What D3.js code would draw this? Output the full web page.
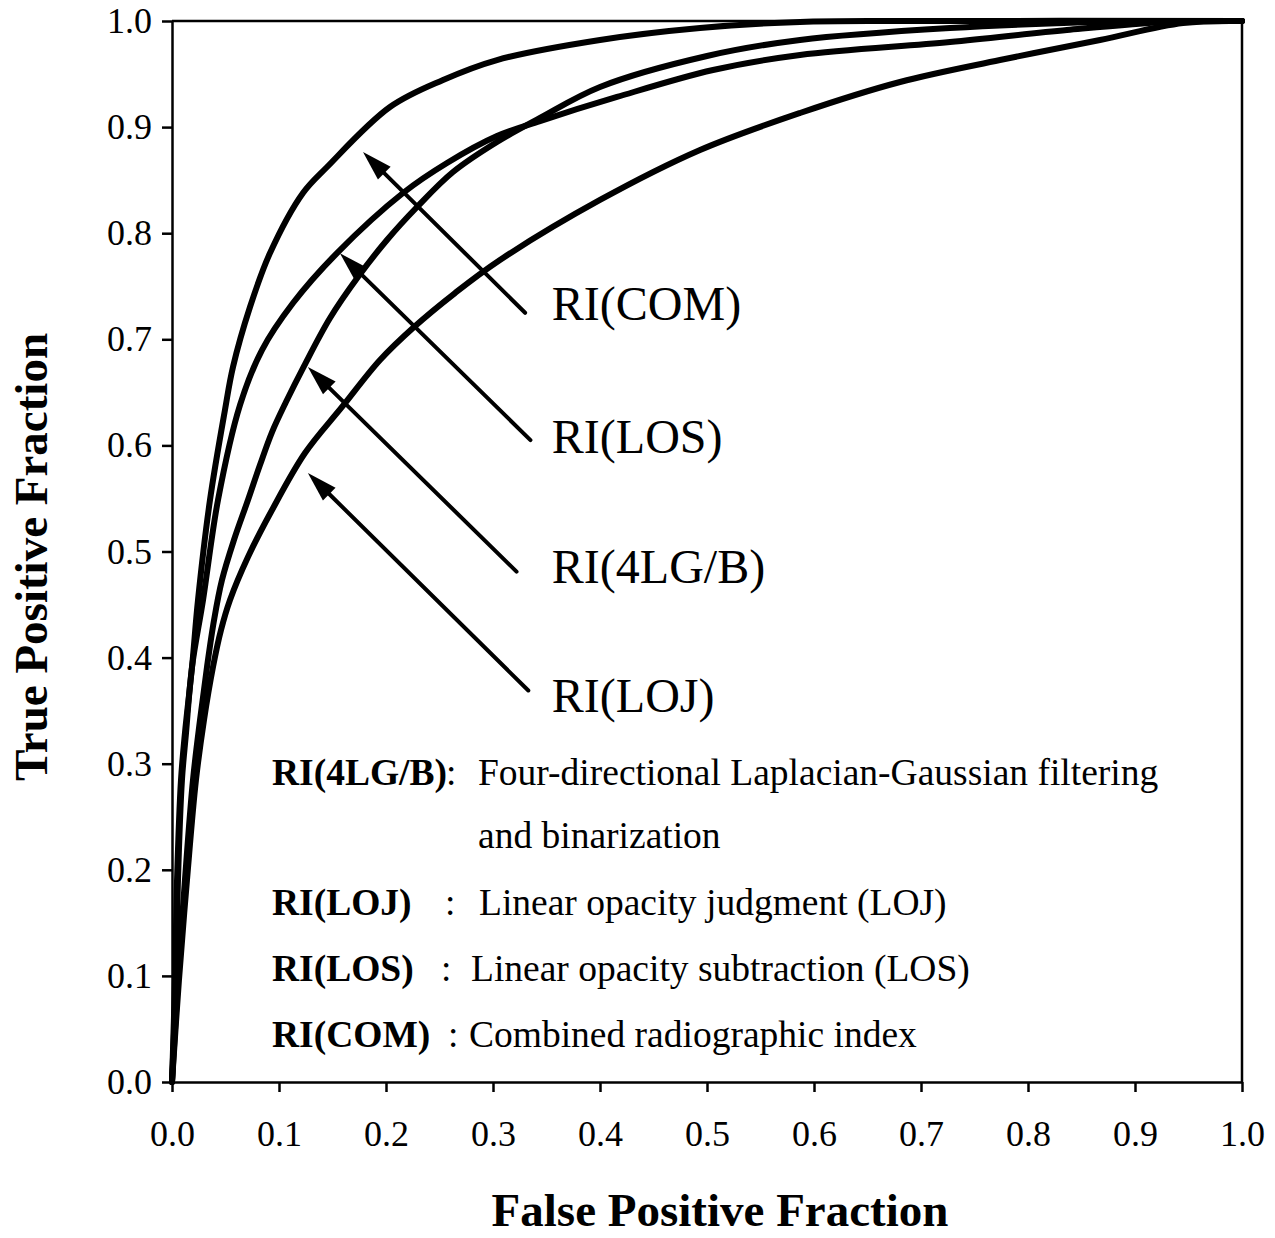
<!DOCTYPE html>
<html><head><meta charset="utf-8">
<script src="https://cdn.jsdelivr.net/npm/d3@7"></script>
<style>
html,body{margin:0;padding:0;background:#fff;}
svg{display:block;}
text{font-family:"Liberation Serif","Times New Roman",serif;fill:#000;}
</style></head>
<body>
<svg id="chart" width="1275" height="1238"></svg>
<script>
// ---------- data ----------
const tickValues = [0,0.1,0.2,0.3,0.4,0.5,0.6,0.7,0.8,0.9,1.0];
const tickLabels = ["0.0","0.1","0.2","0.3","0.4","0.5","0.6","0.7","0.8","0.9","1.0"];

const seriesNames = ["RI(COM)","RI(LOS)","RI(4LG/B)","RI(LOJ)"];

const fpfCOM = [0,0.0028,0.0047,0.0084,0.0121,0.0187,0.0243,0.0355,0.0495,0.0570,0.0729,0.0916,0.1224,0.1449,0.2037,0.2533,0.3037,0.400,0.4935,0.5869,0.6804,1.0];
const tpfCOM = [0,0.0961,0.1904,0.2846,0.3289,0.3911,0.4543,0.5485,0.6334,0.6739,0.7304,0.7813,0.8379,0.8624,0.9189,0.9444,0.9632,0.9821,0.9934,0.9991,1.0,1.0];

const fpfLOS = [0,0.0037,0.0056,0.0093,0.0131,0.0187,0.0290,0.0430,0.0636,0.0841,0.1131,0.1542,0.2159,0.2570,0.3037,0.3439,0.4159,0.5056,0.5869,0.7271,0.8364,0.9299,1.0];
const tpfLOS = [0,0.0961,0.1904,0.2846,0.3289,0.3911,0.4543,0.5485,0.6381,0.6899,0.7342,0.7813,0.8379,0.8662,0.8916,0.9057,0.9284,0.9538,0.9680,0.9802,0.9915,0.9991,1.0];

const fpf4LG = [0,0.0056,0.0121,0.0196,0.0262,0.0327,0.0393,0.0467,0.0579,0.0710,0.0822,0.0935,0.1065,0.1234,0.1477,0.1738,0.2009,0.2290,0.2626,0.3037,0.3439,0.400,0.500,0.5869,0.7271,0.8673,0.9449,1.0];
const tpf4LG = [0,0.0961,0.1904,0.2846,0.3412,0.3911,0.4354,0.4731,0.5108,0.5485,0.5815,0.6126,0.6409,0.6748,0.7201,0.7587,0.7936,0.8247,0.8577,0.8860,0.9086,0.9378,0.9670,0.9821,0.9934,0.9991,1.0,1.0];

const fpfLOJ = [0,0.0065,0.0140,0.0224,0.0299,0.0383,0.0458,0.0542,0.0710,0.0935,0.1243,0.1589,0.1944,0.2262,0.2645,0.3065,0.400,0.4935,0.5869,0.6804,0.7738,0.8673,0.9449,1.0];
const tpfLOJ = [0,0.0961,0.1904,0.2846,0.3412,0.3911,0.4260,0.4543,0.4948,0.5391,0.5928,0.6362,0.6805,0.7116,0.7436,0.7747,0.8313,0.8784,0.9133,0.9425,0.9632,0.9821,0.9981,1.0];

// arrow annotations (data units): tail -> tip, and label anchor
const arrowTailX = [0.330,0.335,0.322,0.333];
const arrowTailY = [0.725,0.605,0.481,0.369];
const arrowTipX  = [0.1785,0.157,0.127,0.127];
const arrowTipY  = [0.8765,0.781,0.674,0.574];
const labelX = [0.355,0.355,0.355,0.355];
const labelY = [0.718,0.593,0.470,0.349];

const legendKeys = ["RI(4LG/B)","","RI(LOJ)","RI(LOS)","RI(COM)"];
const legendSeps = [":","",":",":",":"];
const legendTexts = ["Four-directional Laplacian-Gaussian filtering","and binarization","Linear opacity judgment (LOJ)","Linear opacity subtraction (LOS)","Combined radiographic index"];

// ---------- layout ----------
const svg = d3.select("#chart");
const X0=172, X1=1242, Y0=1082, Y1=21;
const x = d3.scaleLinear().domain([0,1]).range([X0,X1]);
const y = d3.scaleLinear().domain([0,1]).range([Y0,Y1]);

// box lines (top & right)
svg.append("line").attr("x1",X0).attr("x2",X1).attr("y1",Y1).attr("y2",Y1)
  .attr("stroke","#000").attr("stroke-width",2.5);
svg.append("line").attr("x1",X1).attr("x2",X1).attr("y1",Y1).attr("y2",Y0)
  .attr("stroke","#000").attr("stroke-width",2.5);

// axes
const fmt = (d)=> tickLabels[tickValues.indexOf(d)];
const gx = svg.append("g").attr("transform",`translate(0,${Y0})`)
  .call(d3.axisBottom(x).tickValues(tickValues).tickFormat(fmt).tickSize(10).tickSizeOuter(0).tickPadding(28));
const gy = svg.append("g").attr("transform",`translate(${X0},0)`)
  .call(d3.axisLeft(y).tickValues(tickValues).tickFormat(fmt).tickSize(10).tickSizeOuter(0).tickPadding(10));
[gx,gy].forEach(g=>{
  g.select(".domain").attr("stroke","#000").attr("stroke-width",2.5);
  g.selectAll(".tick line").attr("stroke","#000").attr("stroke-width",2.5);
  g.selectAll(".tick text").style("font-family","'Liberation Serif',serif").style("font-size","36px").attr("fill","#000");
});

// axis titles
svg.append("text").attr("x",720).attr("y",1226).attr("text-anchor","middle")
  .style("font-size","47px").style("font-weight","bold").text("False Positive Fraction");
svg.append("text").attr("transform","translate(47,557) rotate(-90)").attr("text-anchor","middle")
  .style("font-size","47px").style("font-weight","bold").text("True Positive Fraction");

// curves
const curves = [
  {fx:fpfCOM, ty:tpfCOM},
  {fx:fpfLOS, ty:tpfLOS},
  {fx:fpf4LG, ty:tpf4LG},
  {fx:fpfLOJ, ty:tpfLOJ}
];
const line = d3.line().x(d=>x(d[0])).y(d=>y(d[1])).curve(d3.curveCatmullRom.alpha(0.5));
curves.forEach(c=>{
  const pts = c.fx.map((v,i)=>[v,c.ty[i]]);
  svg.append("path").attr("d",line(pts)).attr("fill","none")
    .attr("stroke","#000").attr("stroke-width",6).attr("stroke-linejoin","round").attr("stroke-linecap","round");
});

// arrows
const headLen = 30, headHalf = 9;
seriesNames.forEach((name,i)=>{
  const tx=x(arrowTailX[i]), ty=y(arrowTailY[i]);
  const px=x(arrowTipX[i]), py=y(arrowTipY[i]);
  const dx=px-tx, dy=py-ty, L=Math.hypot(dx,dy), ux=dx/L, uy=dy/L;
  const bx=px-ux*headLen, by=py-uy*headLen;
  svg.append("line").attr("x1",tx).attr("y1",ty).attr("x2",bx+ux*4).attr("y2",by+uy*4)
    .attr("stroke","#000").attr("stroke-width",4).attr("stroke-linecap","round");
  svg.append("path").attr("d",`M${px},${py}L${bx-uy*headHalf},${by+ux*headHalf}L${bx+uy*headHalf},${by-ux*headHalf}Z`)
    .attr("fill","#000");
  svg.append("text").attr("x",x(labelX[i])).attr("y",y(labelY[i]))
    .style("font-size","48px").text(name);
});

// legend
const legBase = [785,848,915,981,1047];
const sepX = [446,0,445,441,448];
const txtX = [478,478,479,471,469];
legendTexts.forEach((t,i)=>{
  if(legendKeys[i]) svg.append("text").attr("x",272).attr("y",legBase[i])
    .style("font-size","37.5px").style("font-weight","bold").text(legendKeys[i]);
  if(legendSeps[i]) svg.append("text").attr("x",sepX[i]).attr("y",legBase[i])
    .style("font-size","37.5px").text(legendSeps[i]);
  svg.append("text").attr("x",txtX[i]).attr("y",legBase[i]).style("font-size","37.5px").text(t);
});
</script>
</body></html>
